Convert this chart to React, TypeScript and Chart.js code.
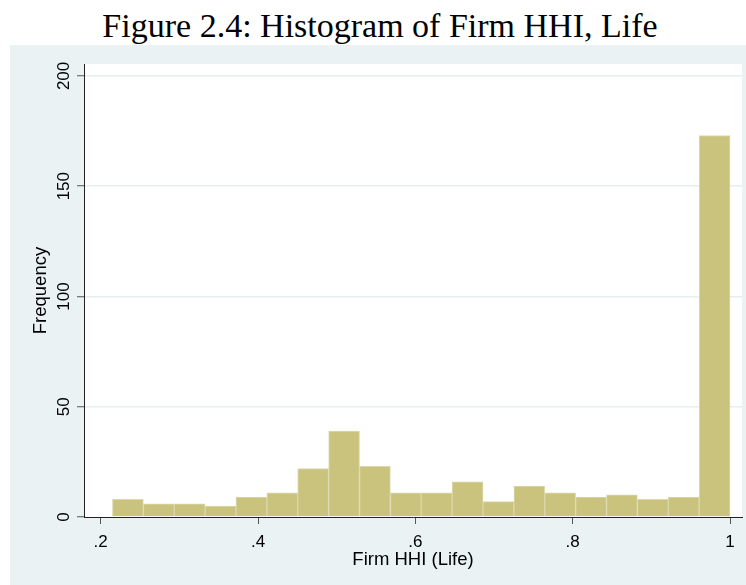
import React, { useEffect, useRef } from "react";
import { Chart, registerables } from "chart.js";

Chart.register(...registerables);

const titleText = "Figure 2.4: Histogram of Firm HHI, Life";
const xAxisTitle = "Firm HHI (Life)";
const yAxisTitle = "Frequency";

// histogram bin centres (Firm HHI) and frequencies
const binCenters = [
  0.2346, 0.2739, 0.3131, 0.3524, 0.3916, 0.4309, 0.4701, 0.5094, 0.5486, 0.5879,
  0.6271, 0.6664, 0.7056, 0.7449, 0.7841, 0.8234, 0.8626, 0.9019, 0.9411, 0.9804,
];
const frequencies = [8, 6, 6, 5, 9, 11, 22, 39, 23, 11, 11, 16, 7, 14, 11, 9, 10, 8, 9, 173];

const xTickValues = [0.2, 0.4, 0.6, 0.8, 1];
const xTickLabels = [".2", ".4", ".6", ".8", "1"];
const yTickValues = [0, 50, 100, 150, 200];

const xMin = 0.1788;
const xMax = 1.0152;
const yMin = 0;
const yMax = 205.4;

const plotBackground = {
  id: "plotBackground",
  beforeDraw(chart: any) {
    const { ctx, chartArea } = chart;
    ctx.save();
    ctx.fillStyle = "#ffffff";
    ctx.fillRect(chartArea.left, chartArea.top, chartArea.right - chartArea.left, chartArea.bottom - chartArea.top);
    ctx.restore();
  },
};

export default function App() {
  const canvasRef = useRef<HTMLCanvasElement | null>(null);

  useEffect(() => {
    if (!canvasRef.current) return;
    const chart = new Chart(canvasRef.current, {
      type: "bar",
      data: {
        datasets: [
          {
            data: binCenters.map((c, i) => ({ x: c, y: frequencies[i] })),
            backgroundColor: "#c9c37e",
            borderColor: "#dcd8aa",
            borderWidth: 1,
            borderSkipped: "bottom",
            barPercentage: 1,
            categoryPercentage: 1,
          },
        ],
      },
      options: {
        responsive: false,
        devicePixelRatio: 1,
        animation: false,
        layout: { padding: { top: 19, right: 4, left: 0, bottom: 0 } },
        plugins: {
          legend: { display: false },
          tooltip: { enabled: false },
          title: { display: false },
        },
        scales: {
          x: {
            type: "linear",
            min: xMin,
            max: xMax,
            offset: false,
            afterBuildTicks: (scale: any) => {
              scale.ticks = xTickValues.map((v) => ({ value: v }));
            },
            afterFit: (scale: any) => {
              scale.height = 68;
            },
            ticks: {
              autoSkip: false,
              maxRotation: 0,
              minRotation: 0,
              padding: 8,
              color: "#000",
              font: { family: "'Liberation Sans', Arial, sans-serif", size: 17 },
              callback: (value: any) => {
                const idx = xTickValues.findIndex((v) => Math.abs(v - Number(value)) < 1e-9);
                return idx >= 0 ? xTickLabels[idx] : "";
              },
            },
            grid: {
              offset: false,
              drawOnChartArea: false,
              drawTicks: true,
              tickLength: 7,
              tickColor: "#555",
              tickWidth: 1,
            },
            border: { display: true, color: "#222", width: 1 },
            title: {
              display: true,
              text: xAxisTitle,
              color: "#000",
              font: { family: "'Liberation Sans', Arial, sans-serif", size: 18.5 },
              padding: { top: 0, bottom: 14 },
            },
          },
          y: {
            type: "linear",
            min: yMin,
            max: yMax,
            afterBuildTicks: (scale: any) => {
              scale.ticks = yTickValues.map((v) => ({ value: v }));
            },
            afterFit: (scale: any) => {
              scale.width = 74;
            },
            ticks: {
              autoSkip: false,
              minRotation: 90,
              maxRotation: 90,
              crossAlign: "center",
              padding: -1,
              color: "#000",
              font: { family: "'Liberation Sans', Arial, sans-serif", size: 17 },
            },
            grid: {
              color: (ctx: any) => (ctx.tick && ctx.tick.value === 0 ? "rgba(0,0,0,0)" : "#e6eef0"),
              lineWidth: 1.5,
              drawTicks: true,
              tickLength: 7,
              tickColor: "#555",
              tickWidth: 1,
            },
            border: { display: true, color: "#222", width: 1 },
            title: {
              display: true,
              text: yAxisTitle,
              color: "#000",
              font: { family: "'Liberation Sans', Arial, sans-serif", size: 18.5 },
              padding: { top: 20, bottom: 0 },
            },
          },
        },
      } as any,
      plugins: [plotBackground],
    });
    return () => chart.destroy();
  }, []);

  return (
    <div style={{ position: "absolute", left: 0, top: 0, width: 746, height: 585, background: "#ffffff", overflow: "hidden" }}>
      <canvas
        ref={canvasRef}
        width={736}
        height={540}
        style={{ position: "absolute", left: 10, top: 45, width: 736, height: 540, background: "#eaf2f3", display: "block" }}
      />
      <div
        style={{
          position: "absolute",
          left: 14,
          top: 9,
          width: 732,
          textAlign: "center",
          fontFamily: "'Liberation Serif', 'Times New Roman', serif",
          fontSize: 34,
          lineHeight: "34px",
          color: "#000",
          whiteSpace: "nowrap",
        }}
      >
        {titleText}
      </div>
    </div>
  );
}
